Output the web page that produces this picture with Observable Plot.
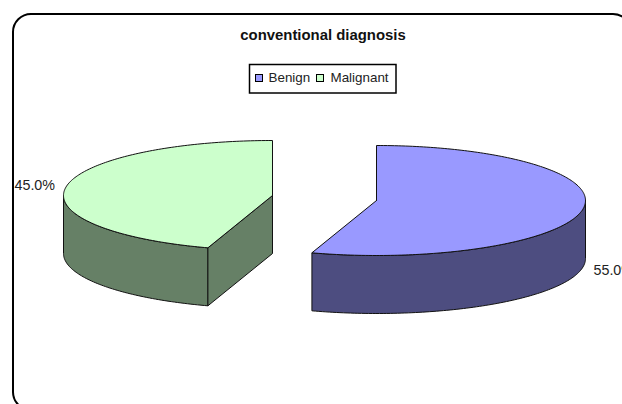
<!DOCTYPE html>
<html>
<head>
<meta charset="utf-8">
<script src="https://cdn.jsdelivr.net/npm/d3@7"></script>
<script src="https://cdn.jsdelivr.net/npm/@observablehq/plot@0.6"></script>
<style>
html,body{margin:0;padding:0;background:#fff;overflow:hidden}
svg{display:block}
</style>
</head>
<body>
<div id="chart"></div>
<script>
const chartTitle = "conventional diagnosis";
const categories = ["Benign", "Malignant"];
const shares = [55, 45];
const topColors = ["#9999FF", "#CCFFCC"];
const sideColors = ["#4D4D80", "#668066"];

// layout of the exploded 3-D pie (in pixels of the picture)
const W = 622, H = 404;
const rx = 209, ry = 55, depth = 58;
const centers = [[376, 200], [272, 195]];
const labelAt = [{x: 593, y: 270}, {x: 14, y: 185}];

const total = d3.sum(shares);
const starts = d3.cumsum([0, ...shares]).map(v => v / total * 360);
const rim = (c, deg, dy = 0) => {
  const t = deg * Math.PI / 180;
  return {x: c[0] + rx * Math.sin(t), y: c[1] - ry * Math.cos(t) + dy};
};
const arc = (c, a, b, dy = 0) => {
  const n = Math.max(2, Math.ceil(Math.abs(b - a)));
  return d3.range(n + 1).map(i => rim(c, a + (b - a) * i / n, dy));
};

const polys = [];
const add = (pts, fill) => polys.push({pts: [...pts, pts[0]], fill});
categories.forEach((name, i) => {
  const c = centers[i], a = starts[i], b = starts[i + 1];
  // visible outer wall: the front half of the rim (90..270 degrees)
  const fa = Math.max(a, 90), fb = Math.min(b, 270);
  if (fb > fa) add([...arc(c, fa, fb), ...arc(c, fb, fa, depth)], sideColors[i]);
  // visible cut wall of the slice whose start edge faces the viewer
  if (i === 1) {
    const p = rim(c, a), o = {x: c[0], y: c[1]};
    add([p, o, {x: o.x, y: o.y + depth}, {x: p.x, y: p.y + depth}], sideColors[i]);
  }
  add([{x: c[0], y: c[1]}, ...arc(c, a, b)], topColors[i]);
});
const outline = polys.flatMap((p, k) => p.pts.map(q => ({...q, k, fill: p.fill})));

const labels = categories.map((name, i) => ({
  ...labelAt[i], text: d3.format(".1f")(shares[i] / total * 100) + "%"
}));

const legendBox = [{x1: 249.5, x2: 396, y1: 64.5, y2: 93}];
const legendText = [{x: 268, y: 77.5, t: categories[0]}, {x: 330, y: 77.5, t: categories[1]}];
const legendKeys = [
  {x1: 255.5, x2: 262.5, y1: 74.5, y2: 81.5, f: topColors[0]},
  {x1: 316.5, x2: 323.5, y1: 74.5, y2: 81.5, f: topColors[1]}
];
const frame = [{x1: 13, x2: 631, y1: 14, y2: 410}];

const plot = Plot.plot({
  width: W, height: H,
  margin: 0,
  x: {domain: [0, W], range: [0, W], axis: null},
  y: {domain: [0, H], range: [0, H], axis: null},
  style: {background: "#fff", fontFamily: "'Liberation Sans', Arial, sans-serif"},
  marks: [
    Plot.rect(frame, {x1: "x1", x2: "x2", y1: "y1", y2: "y2", rx: 18, fill: "#fff", stroke: "#000", strokeWidth: 2}),
    Plot.line(outline, {x: "x", y: "y", z: "k", fill: "fill", stroke: "#111", strokeWidth: 1, curve: "linear", strokeLinejoin: "round"}),
    Plot.text(labels, {x: "x", y: "y", text: "text", textAnchor: "start", fontSize: 14.3, fill: "#222"}),
    Plot.text([chartTitle], {x: () => 322.5, y: () => 35, text: d => d, fontSize: 14.9, fontWeight: "bold", fill: "#111"}),
    Plot.rect(legendBox, {x1: "x1", x2: "x2", y1: "y1", y2: "y2", fill: "#fff", stroke: "#000", strokeWidth: 1.5}),
    Plot.rect(legendKeys, {x1: "x1", x2: "x2", y1: "y1", y2: "y2", fill: d => d.f, stroke: "#000", strokeWidth: 1}),
    Plot.text(legendText, {x: "x", y: "y", text: "t", textAnchor: "start", fontSize: 13.4, fill: "#222"})
  ]
});
document.getElementById("chart").append(plot);
</script>
</body>
</html>
